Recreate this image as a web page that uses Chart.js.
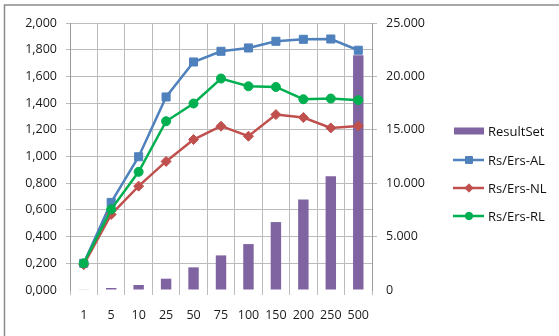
<!DOCTYPE html>
<html lang="en">
<head>
    <meta charset="UTF-8">
    <title>ResultSet vs Rs/Ers</title>
    <script src="https://cdn.jsdelivr.net/npm/chart.js"></script>
    <style>
        body {
            margin: 0;
            padding: 0;
            background: #fff;
        }
        #chart {
            display: block;
        }
    </style>
</head>
<body>
    <canvas id="chart" width="559" height="336"></canvas>

    <script>
        // Data
        const categories = ['1', '5', '10', '25', '50', '75', '100', '150', '200', '250', '500'];
        const resultSet = [60, 190, 470, 1060, 2120, 3240, 4300, 6360, 8480, 10660, 21980];
        const rsErsAL = [0.200, 0.656, 0.998, 1.446, 1.708, 1.788, 1.813, 1.863, 1.878, 1.880, 1.796];
        const rsErsNL = [0.190, 0.566, 0.778, 0.963, 1.127, 1.227, 1.152, 1.314, 1.292, 1.214, 1.229];
        const rsErsRL = [0.200, 0.604, 0.885, 1.264, 1.397, 1.584, 1.526, 1.521, 1.429, 1.434, 1.422];

        const gridColor = '#bcbcbc';
        const axisColor = '#9a9a9a';
        const font = { family: '"Open Sans", sans-serif', size: 12.5 };

        // left axis: 0,200 style; right axis: 5.000 style
        const fmtLeft = v => v.toFixed(3).replace('.', ',');
        const fmtRight = v => v === 0 ? '0' : Math.floor(v / 1000) + '.' + String(v % 1000).padStart(3, '0');
        const hideZero = ctx => (ctx.tick && ctx.tick.value === 0) ? 'rgba(0,0,0,0)' : gridColor;

        // frame around the chart
        const framePlugin = {
            id: 'frame',
            beforeDraw(chart) {
                const c = chart.ctx;
                c.save();
                c.fillStyle = '#fff';
                c.fillRect(0, 0, chart.width, chart.height);
                c.strokeStyle = '#8c8c8c';
                c.lineWidth = 1.5;
                c.beginPath();
                c.moveTo(4.5, chart.height);
                c.lineTo(4.5, 5);
                c.lineTo(chart.width, 5);
                c.stroke();
                c.restore();
            }
        };

        // legend on the right, Excel style
        const legendPlugin = {
            id: 'sideLegend',
            afterDraw(chart) {
                const c = chart.ctx;
                const ds = chart.data.datasets;
                const x0 = 454, x1 = 484, tx = 488;
                const rows = [131, 160, 188, 216];
                c.save();
                c.font = '13px "Open Sans", sans-serif';
                c.textBaseline = 'middle';
                ds.forEach((d, i) => {
                    const y = rows[i];
                    if (d.type === 'bar') {
                        c.fillStyle = d.backgroundColor;
                        c.fillRect(x0, y - 3.5, x1 - x0, 7);
                    } else {
                        c.strokeStyle = d.borderColor;
                        c.fillStyle = d.borderColor;
                        c.lineWidth = 2.5;
                        c.beginPath();
                        c.moveTo(x0 - 1, y);
                        c.lineTo(x1, y);
                        c.stroke();
                        c.lineWidth = 1;
                        Chart.helpers.drawPoint(c, {
                            pointStyle: d.pointStyle,
                            radius: d.pointRadius - 0.8,
                            borderWidth: 1
                        }, (x0 + x1) / 2, y);
                    }
                    c.fillStyle = '#111';
                    c.fillText(d.label, tx, y + 1);
                });
                c.restore();
            }
        };

        function lineSet(label, data, color, style, radius, order) {
            return {
                type: 'line',
                label: label,
                data: data,
                yAxisID: 'y',
                borderColor: color,
                backgroundColor: color,
                borderWidth: 2.5,
                pointStyle: style,
                pointRadius: radius,
                pointBorderWidth: 1,
                pointBackgroundColor: color,
                pointBorderColor: color,
                tension: 0,
                order: order
            };
        }

        new Chart(document.getElementById('chart'), {
            data: {
                labels: categories,
                datasets: [
                    {
                        type: 'bar',
                        label: 'ResultSet',
                        data: resultSet,
                        yAxisID: 'y1',
                        backgroundColor: '#8064A2',
                        categoryPercentage: 1,
                        barPercentage: 0.38,
                        order: 4
                    },
                    lineSet('Rs/Ers-AL', rsErsAL, '#4F81BD', 'rect', 5.7, 3),
                    lineSet('Rs/Ers-NL', rsErsNL, '#C0504D', 'rectRot', 5, 2),
                    lineSet('Rs/Ers-RL', rsErsRL, '#00B050', 'circle', 4.5, 1)
                ]
            },
            options: {
                responsive: false,
                animation: false,
                layout: { padding: { top: 23, left: 0, right: 0, bottom: 0 } },
                plugins: {
                    legend: { display: false },
                    tooltip: { enabled: false }
                },
                scales: {
                    x: {
                        offset: true,
                        grid: { offset: true, color: gridColor, tickLength: 5 },
                        border: { display: false },
                        ticks: { font: font, color: '#1a1a1a', padding: 13, maxRotation: 0, autoSkip: false },
                        afterFit: s => { s.height = 46; }
                    },
                    y: {
                        position: 'left',
                        min: 0,
                        max: 2,
                        ticks: { stepSize: 0.2, font: font, color: '#1a1a1a', padding: 9, callback: fmtLeft },
                        grid: { color: hideZero, tickLength: 4 },
                        border: { display: true, color: axisColor },
                        afterFit: s => { s.width = 70; }
                    },
                    y1: {
                        position: 'right',
                        min: 0,
                        max: 25000,
                        ticks: { stepSize: 5000, font: font, color: '#1a1a1a', padding: 9, callback: fmtRight },
                        grid: { drawOnChartArea: false, color: hideZero, tickLength: 5 },
                        border: { display: true, color: axisColor },
                        afterFit: s => { s.width = 187; }
                    }
                }
            },
            plugins: [framePlugin, legendPlugin]
        });
    </script>
</body>
</html>
